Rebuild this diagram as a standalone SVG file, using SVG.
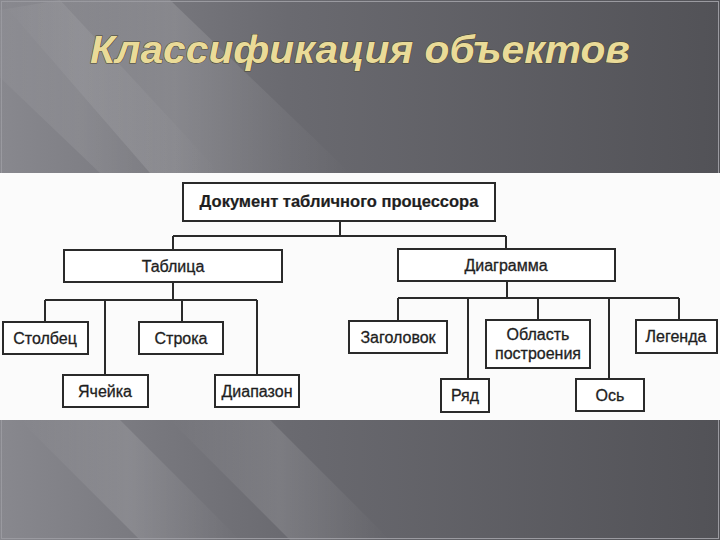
<svg xmlns="http://www.w3.org/2000/svg" width="720" height="540" viewBox="0 0 720 540">
  <defs>
    <linearGradient id="bg" x1="0" y1="0" x2="1" y2="0">
      <stop offset="0" stop-color="#88888e"/>
      <stop offset="0.4" stop-color="#6a6a70"/>
      <stop offset="1" stop-color="#525257"/>
    </linearGradient>
    <linearGradient id="streak" x1="0" y1="0" x2="1" y2="0">
      <stop offset="0" stop-color="#ffffff" stop-opacity="0"/>
      <stop offset="0.5" stop-color="#ffffff" stop-opacity="0.13"/>
      <stop offset="1" stop-color="#ffffff" stop-opacity="0"/>
    </linearGradient>
    <style>
      .box { fill: #ffffff; stroke: #2a2a2a; stroke-width: 2; }
      .lbl { font-family: "Liberation Sans", Arial, sans-serif; font-size: 16px; fill: #1e1e1e; text-anchor: middle; stroke: #1e1e1e; stroke-width: 0.3; }
      .bold { font-weight: bold; font-size: 16.5px; stroke-width: 0.2; }
      .conn { fill: none; stroke: #2a2a2a; stroke-width: 2; }
      .title { font-family: "Liberation Sans", Arial, sans-serif; font-weight: bold; font-style: italic; font-size: 38px; fill: #eadb98; stroke: #4a4630; stroke-width: 1; paint-order: stroke; }
    </style>
  </defs>

  <!-- background -->
  <rect x="0" y="0" width="720" height="540" fill="url(#bg)"/>
  <polygon points="0,0 170,0 350,173 150,173" fill="url(#streak)"/>
  <polygon points="-60,20 60,0 220,173 100,173" fill="url(#streak)" opacity="0.6"/>
  <polygon points="20,420 120,420 240,540 140,540" fill="url(#streak)" opacity="0.9"/>
  <polygon points="170,420 270,420 390,540 290,540" fill="url(#streak)" opacity="0.9"/>
  <rect x="1.5" y="1.5" width="717" height="537" fill="none" stroke="#9a9aa0" stroke-width="1"/>

  <text class="title" x="360" y="63" text-anchor="middle" textLength="540" lengthAdjust="spacingAndGlyphs">Классификация объектов</text>

  <!-- white panel -->
  <rect x="0" y="173" width="720" height="247" fill="#fbfbfb"/>

  <g id="connectors">
    <path class="conn" d="M340,221 V236 M173,236 H506 M173,236 V250 M506,236 V249"/>
    <path class="conn" d="M173,282 V300 M45,300 H257 M45,300 V322 M105,300 V375 M182,300 V322 M257,300 V375"/>
    <path class="conn" d="M507,281 V298 M398,298 H679 M398,298 V321 M468,298 V379 M538,298 V320 M609,298 V379 M679,298 V320"/>
  </g>

  <g id="root">
    <rect class="box" x="183" y="183" width="312" height="38"/>
    <text class="lbl bold" x="339" y="207">Документ табличного процессора</text>
  </g>
  <g id="tablica">
    <rect class="box" x="64" y="250" width="218" height="32"/>
    <text class="lbl" x="173" y="272">Таблица</text>
  </g>
  <g id="diagramma">
    <rect class="box" x="398" y="249" width="217" height="32"/>
    <text class="lbl" x="506" y="271">Диаграмма</text>
  </g>
  <g id="stolbec">
    <rect class="box" x="3" y="322" width="85" height="32"/>
    <text class="lbl" x="45" y="344">Столбец</text>
  </g>
  <g id="stroka">
    <rect class="box" x="139" y="322" width="84" height="32"/>
    <text class="lbl" x="181" y="344">Строка</text>
  </g>
  <g id="yacheyka">
    <rect class="box" x="63" y="375" width="85" height="32"/>
    <text class="lbl" x="105" y="397">Ячейка</text>
  </g>
  <g id="diapazon">
    <rect class="box" x="215" y="375" width="84" height="32"/>
    <text class="lbl" x="257" y="397">Диапазон</text>
  </g>
  <g id="zagolovok">
    <rect class="box" x="349" y="321" width="98" height="32"/>
    <text class="lbl" x="398" y="343">Заголовок</text>
  </g>
  <g id="oblast">
    <rect class="box" x="486" y="320" width="104" height="48"/>
    <text class="lbl" x="538" y="340">Область</text>
    <text class="lbl" x="538" y="359">построения</text>
  </g>
  <g id="legenda">
    <rect class="box" x="636" y="320" width="81" height="33"/>
    <text class="lbl" x="676" y="342">Легенда</text>
  </g>
  <g id="ryad">
    <rect class="box" x="441" y="379" width="48" height="33"/>
    <text class="lbl" x="465" y="401">Ряд</text>
  </g>
  <g id="os">
    <rect class="box" x="576" y="379" width="68" height="32"/>
    <text class="lbl" x="610" y="401">Ось</text>
  </g>
</svg>
